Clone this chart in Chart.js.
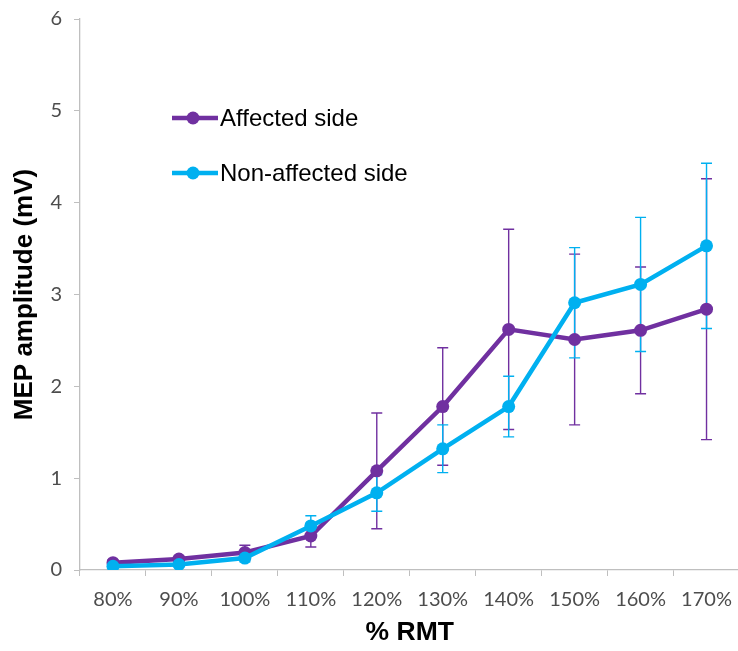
<!DOCTYPE html>
<html>
<head>
<meta charset="utf-8">
<script src="https://cdn.jsdelivr.net/npm/chart.js@4.4.0/dist/chart.umd.min.js"></script>
<style>
  html, body { margin: 0; padding: 0; background: #fff; overflow: hidden; }
  #wrap { width: 746px; height: 651px; }
</style>
</head>
<body>
<div id="wrap"><canvas id="myChart" width="746" height="651"></canvas></div>
<script>
// Stimulus intensity (% of resting motor threshold)
const intensities = ['80%', '90%', '100%', '110%', '120%', '130%', '140%', '150%', '160%', '170%'];

// MEP amplitude means (mV) and standard deviations
const affectedMean = [0.08, 0.12, 0.19, 0.37, 1.08, 1.78, 2.62, 2.51, 2.61, 2.84];
const affectedSd   = [0.03, 0.03, 0.08, 0.12, 0.63, 0.64, 1.09, 0.93, 0.69, 1.42];
const nonAffectedMean = [0.04, 0.06, 0.13, 0.48, 0.84, 1.32, 1.78, 2.91, 3.11, 3.53];
const nonAffectedSd   = [0.02, 0.02, 0.04, 0.11, 0.20, 0.26, 0.33, 0.60, 0.73, 0.90];

const yTicks = [0, 1, 2, 3, 4, 5, 6];

const PURPLE = '#7030A0';
const CYAN = '#00B0F0';

// vertical error bars with caps, drawn underneath the lines
const errorBars = {
  id: 'errorBars',
  beforeDatasetsDraw(chart) {
    const ctx = chart.ctx;
    const y = chart.scales.y;
    chart.data.datasets.forEach((ds, i) => {
      const meta = chart.getDatasetMeta(i);
      ctx.save();
      ctx.strokeStyle = ds.borderColor;
      ctx.lineWidth = 1.4;
      meta.data.forEach((pt, j) => {
        const v = ds.data[j], e = ds.sd[j];
        const top = y.getPixelForValue(v + e);
        const bot = y.getPixelForValue(v - e);
        ctx.beginPath();
        ctx.moveTo(pt.x, top); ctx.lineTo(pt.x, bot);
        ctx.moveTo(pt.x - 5.5, top); ctx.lineTo(pt.x + 5.5, top);
        ctx.moveTo(pt.x - 5.5, bot); ctx.lineTo(pt.x + 5.5, bot);
        ctx.stroke();
      });
      ctx.restore();
    });
  }
};

// legend placed inside the plot area
const innerLegend = {
  id: 'innerLegend',
  afterDraw(chart) {
    const ctx = chart.ctx;
    const x0 = 172, rows = [118, 173];
    ctx.save();
    ctx.font = '24px "Liberation Sans", Arial, sans-serif';
    ctx.textBaseline = 'middle';
    chart.data.datasets.forEach((ds, i) => {
      const yy = rows[i];
      ctx.strokeStyle = ds.borderColor;
      ctx.lineWidth = 4.5;
      ctx.beginPath();
      ctx.moveTo(x0, yy); ctx.lineTo(x0 + 46, yy);
      ctx.stroke();
      ctx.fillStyle = ds.borderColor;
      ctx.beginPath();
      ctx.arc(x0 + 21, yy, 6.5, 0, Math.PI * 2);
      ctx.fill();
      ctx.fillStyle = '#000';
      ctx.fillText(ds.label, x0 + 48, yy + 1);
    });
    ctx.restore();
  }
};

const canvas = document.getElementById('myChart');
const chart = new Chart(canvas, {
  type: 'line',
  data: {
    labels: intensities,
    datasets: [
      {
        label: 'Affected side',
        data: affectedMean,
        sd: affectedSd,
        borderColor: PURPLE,
        backgroundColor: PURPLE,
        borderWidth: 4.5,
        pointRadius: 6.5,
        pointBorderWidth: 0,
        tension: 0,
        order: 2
      },
      {
        label: 'Non-affected side',
        data: nonAffectedMean,
        sd: nonAffectedSd,
        borderColor: CYAN,
        backgroundColor: CYAN,
        borderWidth: 4.5,
        pointRadius: 6.5,
        pointBorderWidth: 0,
        tension: 0,
        order: 1
      }
    ]
  },
  options: {
    responsive: false,
    animation: false,
    layout: { padding: { top: 19, right: 0, left: 0, bottom: 0 } },
    plugins: {
      legend: { display: false },
      tooltip: { enabled: false }
    },
    scales: {
      x: {
        offset: true,
        grid: {
          offset: true,
          drawOnChartArea: false,
          color: '#bfbfbf',
          tickLength: 6
        },
        border: { color: '#bfbfbf', width: 1.3 },
        ticks: {
          color: '#4d4d4d',
          font: { family: 'Lato, "Open Sans", sans-serif', size: 20 },
          padding: 12,
          maxRotation: 0
        },
        title: {
          display: true,
          text: '% RMT',
          color: '#000',
          font: { family: '"Liberation Sans", Arial, sans-serif', size: 26.5, weight: 'bold' },
          padding: { top: 0, bottom: 2 }
        },
        afterFit(scale) { scale.height = 81; }
      },
      y: {
        min: 0,
        max: 6,
        afterBuildTicks(scale) { scale.ticks = yTicks.map(v => ({ value: v })); },
        grid: {
          drawOnChartArea: false,
          color: '#bfbfbf',
          tickLength: 6
        },
        border: { color: '#bfbfbf', width: 1.3 },
        ticks: {
          color: '#4d4d4d',
          font: { family: 'Lato, "Open Sans", sans-serif', size: 20 },
          padding: 12
        },
        title: {
          display: true,
          text: 'MEP amplitude (mV)',
          color: '#000',
          font: { family: '"Liberation Sans", Arial, sans-serif', size: 26, weight: 'bold' },
          padding: { top: 9, bottom: 0 }
        },
        afterFit(scale) {
          scale.width = 80;
          scale.paddingTop = 0;
          scale.paddingBottom = 0;
        }
      }
    }
  },
  plugins: [errorBars, innerLegend]
});
</script>
</body>
</html>
